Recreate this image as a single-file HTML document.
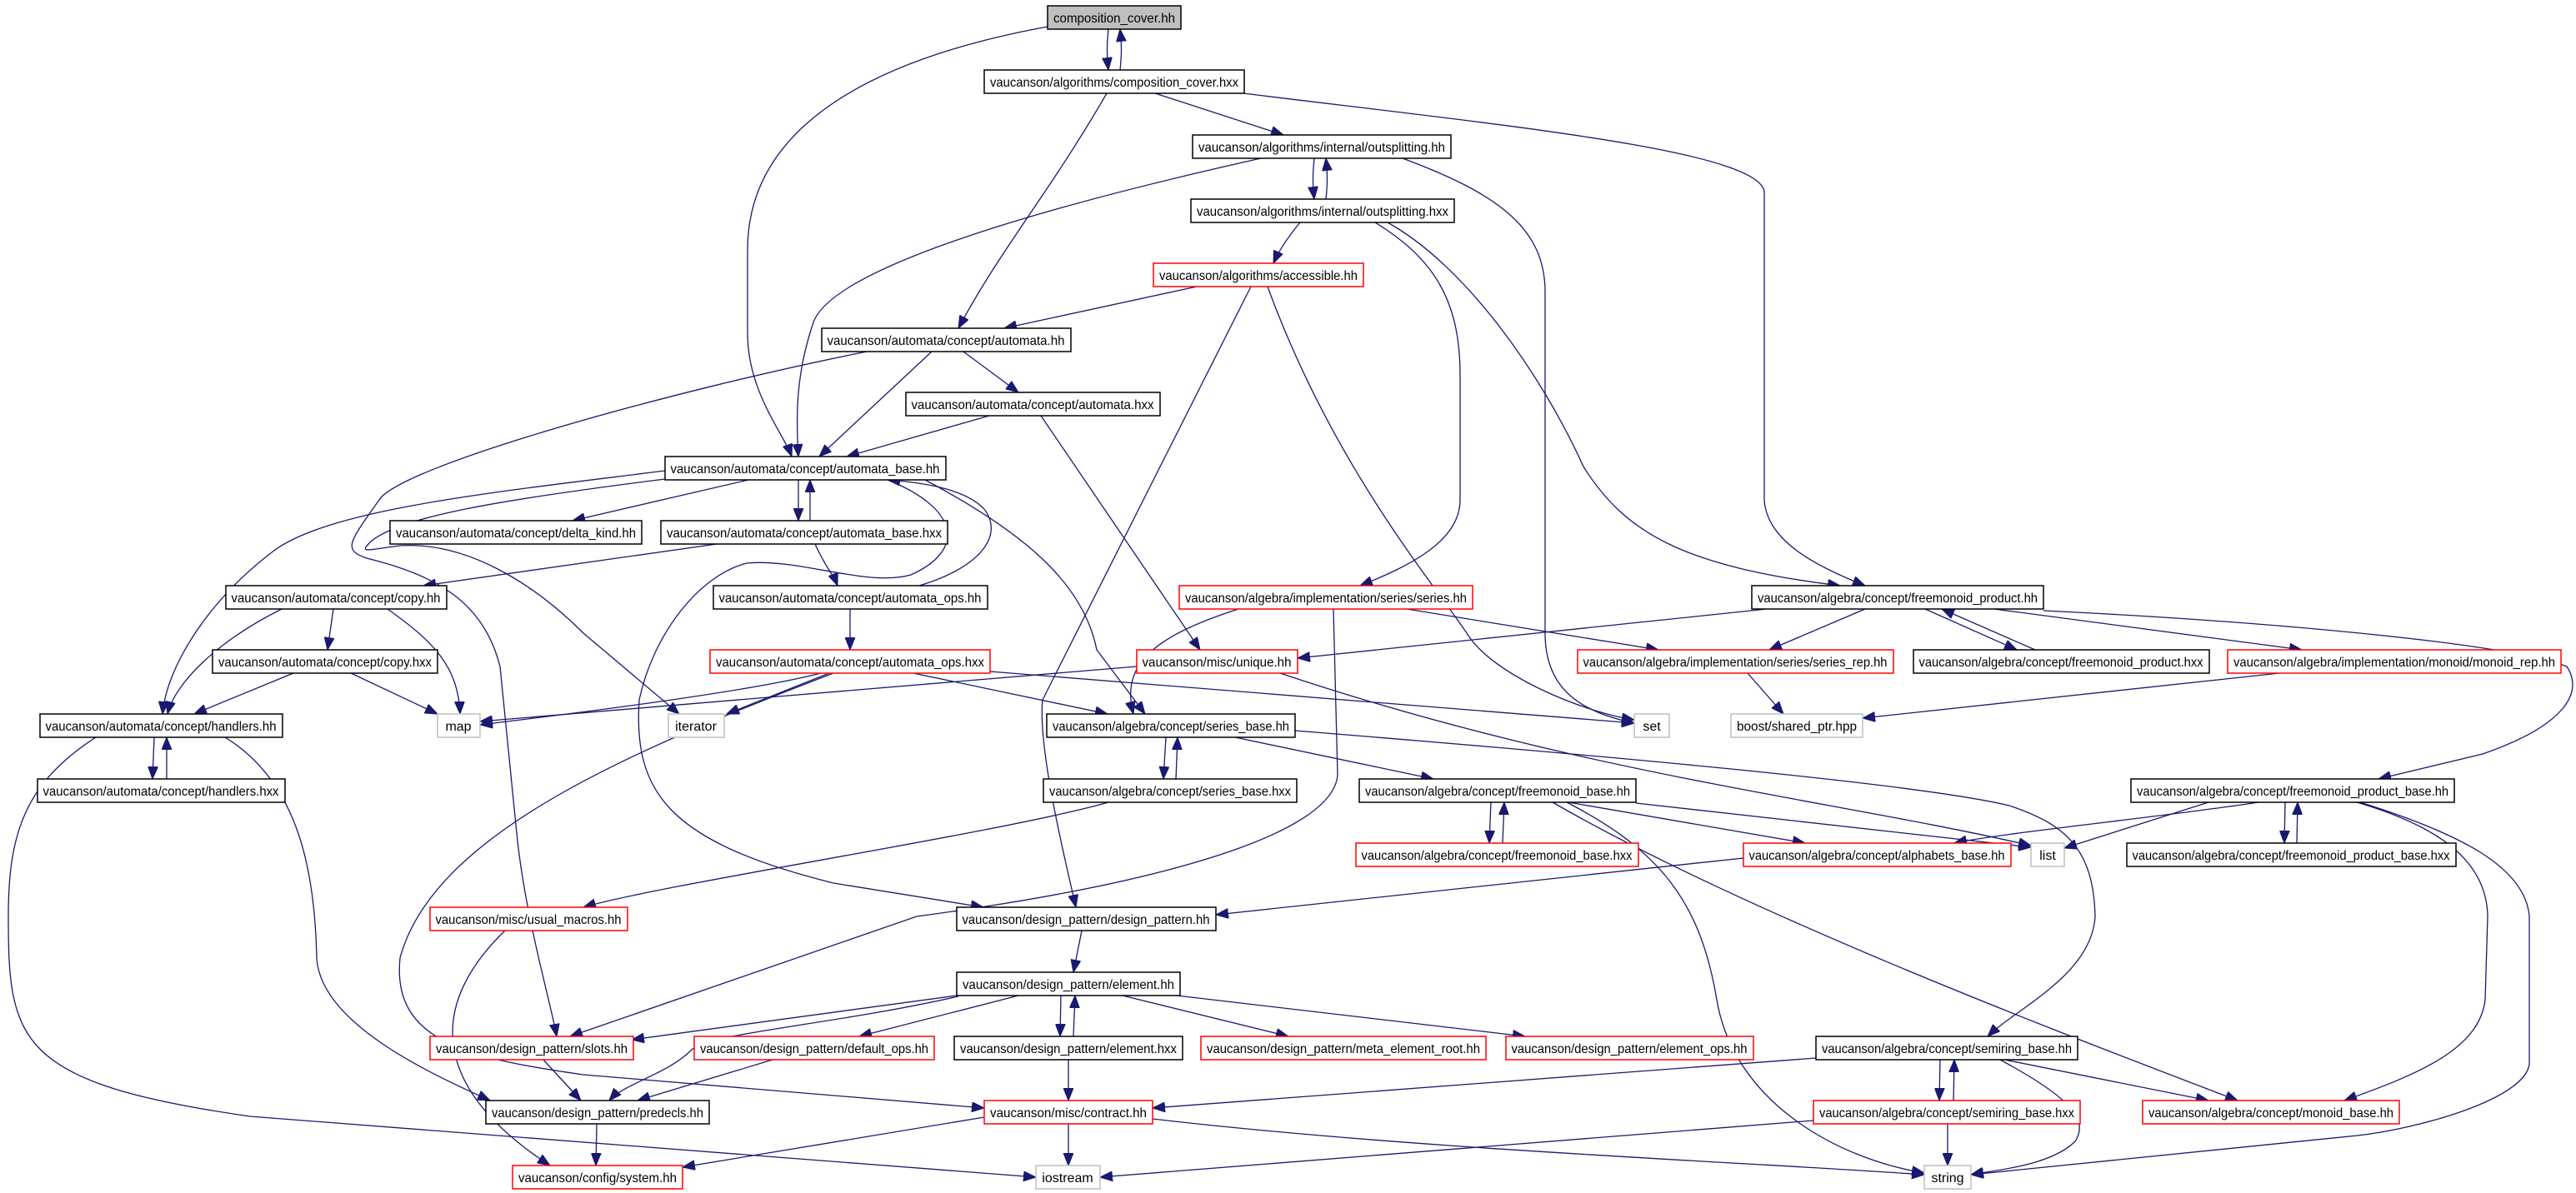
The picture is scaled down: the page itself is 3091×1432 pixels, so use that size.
<!DOCTYPE html>
<html><head><meta charset="utf-8"><style>
html,body{margin:0;padding:0;background:#fff;}
svg{display:block;}
text{font-family:"Liberation Sans",sans-serif;font-size:16px;fill:#000;}
.e{fill:none;stroke:#191970;stroke-width:1.3;marker-end:url(#a);}
.b{fill:#fff;stroke:#000;stroke-width:1.5;}
.r{fill:#fff;stroke:#ff0000;stroke-width:1.5;}
.g{fill:#fff;stroke:#bfbfbf;stroke-width:1.5;}
.s{fill:#bfbfbf;stroke:#000;stroke-width:1.5;}
</style></head><body>
<svg width="3091" height="1432" viewBox="0 0 3091 1432" xmlns="http://www.w3.org/2000/svg">
<defs><marker id="a" markerUnits="userSpaceOnUse" markerWidth="16" markerHeight="12" refX="15" refY="6" orient="auto"><path d="M0,0 L15,6 L0,12 Z" fill="#191970" stroke="#191970"/></marker></defs>
<g>
<path class="e" d="M1330,35 C1328,55 1328,65 1330,84"/>
<path class="e" d="M1344,84 C1346,65 1346,55 1344,35"/>
<path class="e" d="M1577,190 C1575,210 1575,220 1577,239"/>
<path class="e" d="M1591,239 C1593,220 1593,210 1591,190"/>
<path class="e" d="M1257,32 C1050,70 897,150 897,300 L897,400 C897,470 940,520 950,548"/>
<path class="e" d="M1386,112 L1540,162"/>
<path class="e" d="M1328,112 C1260,230 1200,300 1150,394"/>
<path class="e" d="M1492,112 C1800,150 2110,180 2117,230 L2117,600 C2120,650 2180,680 2238,703"/>
<path class="e" d="M1513,190 C1200,260 990,330 975,390 C955,450 955,500 958,548"/>
<path class="e" d="M1683,190 C1790,230 1854,270 1854,350 L1854,760 C1854,830 1900,855 1961,868"/>
<path class="e" d="M1560,267 C1545,285 1535,300 1528,316"/>
<path class="e" d="M1650,267 C1720,310 1752,360 1752,450 L1752,600 C1752,650 1690,680 1632,703"/>
<path class="e" d="M1665,267 C1760,320 1850,450 1900,560 C1950,640 2020,680 2208,703"/>
<path class="e" d="M1436,344 L1205,394"/>
<path class="e" d="M1501,344 L1251,840 C1245,900 1280,1040 1291,1089"/>
<path class="e" d="M1521,344 C1600,560 1720,700 1760,760 C1790,810 1900,855 1961,864"/>
<path class="e" d="M1156,422 L1222,471"/>
<path class="e" d="M1118,422 L983,548"/>
<path class="e" d="M1040,422 C800,470 480,560 455,600 C420,650 410,660 440,670 C520,690 580,720 600,800 L620,1000 C630,1100 660,1200 668,1244"/>
<path class="e" d="M1187,499 L1016,548"/>
<path class="e" d="M1249,499 L1440,780"/>
<path class="e" d="M898,576 L687,625"/>
<path class="e" d="M958,576 L958,625"/>
<path class="e" d="M972,625 L972,576"/>
<path class="e" d="M798,565 C600,590 400,610 330,660 C250,720 200,800 195,857"/>
<path class="e" d="M798,575 C600,600 480,620 445,650 C430,665 440,660 480,655 C560,650 640,700 700,760 L815,857"/>
<path class="e" d="M1110,576 C1230,640 1300,700 1316,780 L1374,857"/>
<path class="e" d="M1065,576 C1150,610 1160,660 1093,690 C1040,705 960,670 896,676 C840,690 784,760 767,840 C760,950 800,1010 1000,1060 L1180,1089"/>
<path class="e" d="M1103,703 C1180,680 1205,640 1180,610 C1160,590 1120,580 1065,576"/>
<path class="e" d="M860,653 L508,703"/>
<path class="e" d="M978,653 C990,680 1000,690 1005,703"/>
<path class="e" d="M1020,731 L1020,780"/>
<path class="e" d="M985,808 C900,830 700,855 576,870"/>
<path class="e" d="M995,808 L872,857"/>
<path class="e" d="M1188,806 L1961,868"/>
<path class="e" d="M1096,808 L1329,857"/>
<path class="e" d="M1000,808 C760,900 520,1000 480,1150 C470,1250 560,1270 700,1290 L1181,1330"/>
<path class="e" d="M400,731 L393,780"/>
<path class="e" d="M338,731 C260,770 210,820 201,857"/>
<path class="e" d="M465,731 C520,770 550,800 552,857"/>
<path class="e" d="M352,808 L233,857"/>
<path class="e" d="M421,808 L525,857"/>
<path class="e" d="M185,885 L183,935"/>
<path class="e" d="M200,935 L200,885"/>
<path class="e" d="M115,885 C30,940 10,1000 10,1100 C10,1250 20,1300 300,1340 L1243,1413"/>
<path class="e" d="M270,885 C360,940 378,1050 380,1150 C385,1230 520,1290 588,1321"/>
<path class="e" d="M1486,731 C1380,765 1345,800 1360,857"/>
<path class="e" d="M1688,731 L1990,780"/>
<path class="e" d="M1600,731 L1605,930 C1600,1000 1400,1060 1100,1100 L684,1244"/>
<path class="e" d="M1364,800 L576,866"/>
<path class="e" d="M1536,808 C1900,930 2200,960 2437,1015"/>
<path class="e" d="M2120,731 L1557,790"/>
<path class="e" d="M2238,731 L2123,780"/>
<path class="e" d="M2310,731 L2420,780"/>
<path class="e" d="M2442,780 L2330,731"/>
<path class="e" d="M2393,731 L2762,780"/>
<path class="e" d="M2452,733 C2700,745 3000,770 3080,800 C3100,830 3080,870 2979,905 L2854,935"/>
<path class="e" d="M2097,808 L2140,857"/>
<path class="e" d="M2735,808 L2235,862"/>
<path class="e" d="M1399,885 L1396,935"/>
<path class="e" d="M1411,935 L1413,885"/>
<path class="e" d="M1482,885 L1720,935"/>
<path class="e" d="M1554,877 C1900,905 2300,940 2411,967 C2480,990 2512,1020 2514,1100 C2510,1170 2420,1210 2385,1244"/>
<path class="e" d="M1330,963 C1200,1000 800,1060 700,1089"/>
<path class="e" d="M1789,963 L1787,1012"/>
<path class="e" d="M1803,1012 L1805,963"/>
<path class="e" d="M1882,963 L2166,1012"/>
<path class="e" d="M1963,964 L2437,1017"/>
<path class="e" d="M1880,963 C1990,1020 2040,1080 2060,1200 C2080,1320 2200,1390 2309,1408"/>
<path class="e" d="M1863,963 C2100,1100 2500,1250 2685,1321"/>
<path class="e" d="M2710,963 C2600,980 2400,1000 2345,1012"/>
<path class="e" d="M2650,963 L2477,1018"/>
<path class="e" d="M2742,963 L2741,1012"/>
<path class="e" d="M2756,1012 L2757,963"/>
<path class="e" d="M2828,963 C2920,990 2984,1030 2985,1100 L2982,1200 C2975,1260 2900,1290 2813,1321"/>
<path class="e" d="M2832,963 C2950,1000 3030,1040 3035,1100 L3035,1277 C3030,1320 2900,1355 2829,1363 L2365,1410"/>
<path class="e" d="M2092,1030 L1459,1098"/>
<path class="e" d="M606,1117 C520,1200 508,1300 660,1399"/>
<path class="e" d="M1298,1117 L1288,1167"/>
<path class="e" d="M1148,1195 L758,1248"/>
<path class="e" d="M1222,1195 L1031,1244"/>
<path class="e" d="M1273,1195 L1272,1244"/>
<path class="e" d="M1288,1244 L1290,1195"/>
<path class="e" d="M1347,1195 L1546,1244"/>
<path class="e" d="M1412,1195 L1830,1244"/>
<path class="e" d="M1150,1196 C1000,1230 850,1240 830,1260 C800,1290 750,1300 731,1321"/>
<path class="e" d="M652,1272 L697,1321"/>
<path class="e" d="M927,1272 L765,1321"/>
<path class="e" d="M716,1349 L715,1399"/>
<path class="e" d="M1282,1272 L1282,1321"/>
<path class="e" d="M1181,1341 L819,1401"/>
<path class="e" d="M1282,1349 L1282,1399"/>
<path class="e" d="M1383,1343 C1700,1380 2100,1395 2309,1410"/>
<path class="e" d="M2179,1270 L1383,1330"/>
<path class="e" d="M2328,1272 L2327,1321"/>
<path class="e" d="M2344,1321 L2345,1272"/>
<path class="e" d="M2400,1272 C2470,1310 2510,1340 2490,1370 C2460,1400 2390,1405 2365,1410"/>
<path class="e" d="M2405,1272 L2650,1321"/>
<path class="e" d="M2176,1345 L1320,1413"/>
<path class="e" d="M2337,1349 L2337,1399"/>
</g>
<g>
<rect class="s" x="1257" y="7" width="160" height="28"/><text x="1337" y="27" text-anchor="middle" textLength="146" lengthAdjust="spacingAndGlyphs">composition_cover.hh</text>
<rect class="b" x="1181" y="84" width="312" height="28"/><text x="1337" y="104" text-anchor="middle" textLength="298" lengthAdjust="spacingAndGlyphs">vaucanson/algorithms/composition_cover.hxx</text>
<rect class="b" x="1431" y="162" width="310" height="28"/><text x="1586" y="182" text-anchor="middle" textLength="296" lengthAdjust="spacingAndGlyphs">vaucanson/algorithms/internal/outsplitting.hh</text>
<rect class="b" x="1429" y="239" width="316" height="28"/><text x="1587" y="259" text-anchor="middle" textLength="302" lengthAdjust="spacingAndGlyphs">vaucanson/algorithms/internal/outsplitting.hxx</text>
<rect class="r" x="1384" y="316" width="252" height="28"/><text x="1510" y="336" text-anchor="middle" textLength="238" lengthAdjust="spacingAndGlyphs">vaucanson/algorithms/accessible.hh</text>
<rect class="b" x="986" y="394" width="299" height="28"/><text x="1135" y="414" text-anchor="middle" textLength="285" lengthAdjust="spacingAndGlyphs">vaucanson/automata/concept/automata.hh</text>
<rect class="b" x="1087" y="471" width="305" height="28"/><text x="1239" y="491" text-anchor="middle" textLength="291" lengthAdjust="spacingAndGlyphs">vaucanson/automata/concept/automata.hxx</text>
<rect class="b" x="798" y="548" width="337" height="28"/><text x="966" y="568" text-anchor="middle" textLength="323" lengthAdjust="spacingAndGlyphs">vaucanson/automata/concept/automata_base.hh</text>
<rect class="b" x="468" y="625" width="302" height="28"/><text x="619" y="645" text-anchor="middle" textLength="288" lengthAdjust="spacingAndGlyphs">vaucanson/automata/concept/delta_kind.hh</text>
<rect class="b" x="793" y="625" width="344" height="28"/><text x="965" y="645" text-anchor="middle" textLength="330" lengthAdjust="spacingAndGlyphs">vaucanson/automata/concept/automata_base.hxx</text>
<rect class="b" x="271" y="703" width="265" height="28"/><text x="403" y="723" text-anchor="middle" textLength="251" lengthAdjust="spacingAndGlyphs">vaucanson/automata/concept/copy.hh</text>
<rect class="b" x="856" y="703" width="329" height="28"/><text x="1020" y="723" text-anchor="middle" textLength="315" lengthAdjust="spacingAndGlyphs">vaucanson/automata/concept/automata_ops.hh</text>
<rect class="b" x="255" y="780" width="270" height="28"/><text x="390" y="800" text-anchor="middle" textLength="256" lengthAdjust="spacingAndGlyphs">vaucanson/automata/concept/copy.hxx</text>
<rect class="r" x="852" y="780" width="336" height="28"/><text x="1020" y="800" text-anchor="middle" textLength="322" lengthAdjust="spacingAndGlyphs">vaucanson/automata/concept/automata_ops.hxx</text>
<rect class="b" x="48" y="857" width="291" height="28"/><text x="193" y="877" text-anchor="middle" textLength="277" lengthAdjust="spacingAndGlyphs">vaucanson/automata/concept/handlers.hh</text>
<rect class="b" x="45" y="935" width="297" height="28"/><text x="193" y="955" text-anchor="middle" textLength="283" lengthAdjust="spacingAndGlyphs">vaucanson/automata/concept/handlers.hxx</text>
<rect class="g" x="525" y="857" width="51" height="28"/><text x="550" y="877" text-anchor="middle">map</text>
<rect class="g" x="802" y="857" width="67" height="28"/><text x="835" y="877" text-anchor="middle">iterator</text>
<rect class="r" x="1415" y="703" width="352" height="28"/><text x="1591" y="723" text-anchor="middle" textLength="338" lengthAdjust="spacingAndGlyphs">vaucanson/algebra/implementation/series/series.hh</text>
<rect class="r" x="1364" y="780" width="193" height="28"/><text x="1460" y="800" text-anchor="middle" textLength="179" lengthAdjust="spacingAndGlyphs">vaucanson/misc/unique.hh</text>
<rect class="b" x="2102" y="703" width="350" height="28"/><text x="2277" y="723" text-anchor="middle" textLength="336" lengthAdjust="spacingAndGlyphs">vaucanson/algebra/concept/freemonoid_product.hh</text>
<rect class="r" x="1893" y="780" width="379" height="28"/><text x="2082" y="800" text-anchor="middle" textLength="365" lengthAdjust="spacingAndGlyphs">vaucanson/algebra/implementation/series/series_rep.hh</text>
<rect class="b" x="2296" y="780" width="355" height="28"/><text x="2473" y="800" text-anchor="middle" textLength="341" lengthAdjust="spacingAndGlyphs">vaucanson/algebra/concept/freemonoid_product.hxx</text>
<rect class="r" x="2673" y="780" width="400" height="28"/><text x="2873" y="800" text-anchor="middle" textLength="386" lengthAdjust="spacingAndGlyphs">vaucanson/algebra/implementation/monoid/monoid_rep.hh</text>
<rect class="g" x="1961" y="857" width="42" height="28"/><text x="1982" y="877" text-anchor="middle">set</text>
<rect class="g" x="2077" y="857" width="158" height="28"/><text x="2156" y="877" text-anchor="middle" textLength="144" lengthAdjust="spacingAndGlyphs">boost/shared_ptr.hpp</text>
<rect class="b" x="1256" y="857" width="298" height="28"/><text x="1405" y="877" text-anchor="middle" textLength="284" lengthAdjust="spacingAndGlyphs">vaucanson/algebra/concept/series_base.hh</text>
<rect class="b" x="1252" y="935" width="304" height="28"/><text x="1404" y="955" text-anchor="middle" textLength="290" lengthAdjust="spacingAndGlyphs">vaucanson/algebra/concept/series_base.hxx</text>
<rect class="b" x="1631" y="935" width="332" height="28"/><text x="1797" y="955" text-anchor="middle" textLength="318" lengthAdjust="spacingAndGlyphs">vaucanson/algebra/concept/freemonoid_base.hh</text>
<rect class="b" x="2557" y="935" width="388" height="28"/><text x="2751" y="955" text-anchor="middle" textLength="374" lengthAdjust="spacingAndGlyphs">vaucanson/algebra/concept/freemonoid_product_base.hh</text>
<rect class="r" x="1627" y="1012" width="339" height="28"/><text x="1796" y="1032" text-anchor="middle" textLength="325" lengthAdjust="spacingAndGlyphs">vaucanson/algebra/concept/freemonoid_base.hxx</text>
<rect class="r" x="2092" y="1012" width="321" height="28"/><text x="2252" y="1032" text-anchor="middle" textLength="307" lengthAdjust="spacingAndGlyphs">vaucanson/algebra/concept/alphabets_base.hh</text>
<rect class="g" x="2437" y="1012" width="40" height="28"/><text x="2457" y="1032" text-anchor="middle">list</text>
<rect class="b" x="2552" y="1012" width="395" height="28"/><text x="2749" y="1032" text-anchor="middle" textLength="381" lengthAdjust="spacingAndGlyphs">vaucanson/algebra/concept/freemonoid_product_base.hxx</text>
<rect class="r" x="516" y="1089" width="237" height="28"/><text x="634" y="1109" text-anchor="middle" textLength="223" lengthAdjust="spacingAndGlyphs">vaucanson/misc/usual_macros.hh</text>
<rect class="b" x="1148" y="1089" width="311" height="28"/><text x="1303" y="1109" text-anchor="middle" textLength="297" lengthAdjust="spacingAndGlyphs">vaucanson/design_pattern/design_pattern.hh</text>
<rect class="b" x="1148" y="1167" width="268" height="28"/><text x="1282" y="1187" text-anchor="middle" textLength="254" lengthAdjust="spacingAndGlyphs">vaucanson/design_pattern/element.hh</text>
<rect class="r" x="516" y="1244" width="244" height="28"/><text x="638" y="1264" text-anchor="middle" textLength="230" lengthAdjust="spacingAndGlyphs">vaucanson/design_pattern/slots.hh</text>
<rect class="r" x="833" y="1244" width="288" height="28"/><text x="977" y="1264" text-anchor="middle" textLength="274" lengthAdjust="spacingAndGlyphs">vaucanson/design_pattern/default_ops.hh</text>
<rect class="b" x="1145" y="1244" width="274" height="28"/><text x="1282" y="1264" text-anchor="middle" textLength="260" lengthAdjust="spacingAndGlyphs">vaucanson/design_pattern/element.hxx</text>
<rect class="r" x="1441" y="1244" width="342" height="28"/><text x="1612" y="1264" text-anchor="middle" textLength="328" lengthAdjust="spacingAndGlyphs">vaucanson/design_pattern/meta_element_root.hh</text>
<rect class="r" x="1807" y="1244" width="297" height="28"/><text x="1955" y="1264" text-anchor="middle" textLength="283" lengthAdjust="spacingAndGlyphs">vaucanson/design_pattern/element_ops.hh</text>
<rect class="b" x="2179" y="1244" width="314" height="28"/><text x="2336" y="1264" text-anchor="middle" textLength="300" lengthAdjust="spacingAndGlyphs">vaucanson/algebra/concept/semiring_base.hh</text>
<rect class="b" x="583" y="1321" width="268" height="28"/><text x="717" y="1341" text-anchor="middle" textLength="254" lengthAdjust="spacingAndGlyphs">vaucanson/design_pattern/predecls.hh</text>
<rect class="r" x="1181" y="1321" width="202" height="28"/><text x="1282" y="1341" text-anchor="middle" textLength="188" lengthAdjust="spacingAndGlyphs">vaucanson/misc/contract.hh</text>
<rect class="r" x="2176" y="1321" width="320" height="28"/><text x="2336" y="1341" text-anchor="middle" textLength="306" lengthAdjust="spacingAndGlyphs">vaucanson/algebra/concept/semiring_base.hxx</text>
<rect class="r" x="2571" y="1321" width="308" height="28"/><text x="2725" y="1341" text-anchor="middle" textLength="294" lengthAdjust="spacingAndGlyphs">vaucanson/algebra/concept/monoid_base.hh</text>
<rect class="r" x="615" y="1399" width="204" height="28"/><text x="717" y="1419" text-anchor="middle" textLength="190" lengthAdjust="spacingAndGlyphs">vaucanson/config/system.hh</text>
<rect class="g" x="1243" y="1399" width="77" height="28"/><text x="1281" y="1419" text-anchor="middle">iostream</text>
<rect class="g" x="2309" y="1399" width="56" height="28"/><text x="2337" y="1419" text-anchor="middle">string</text>
</g>
</svg>
</body></html>
